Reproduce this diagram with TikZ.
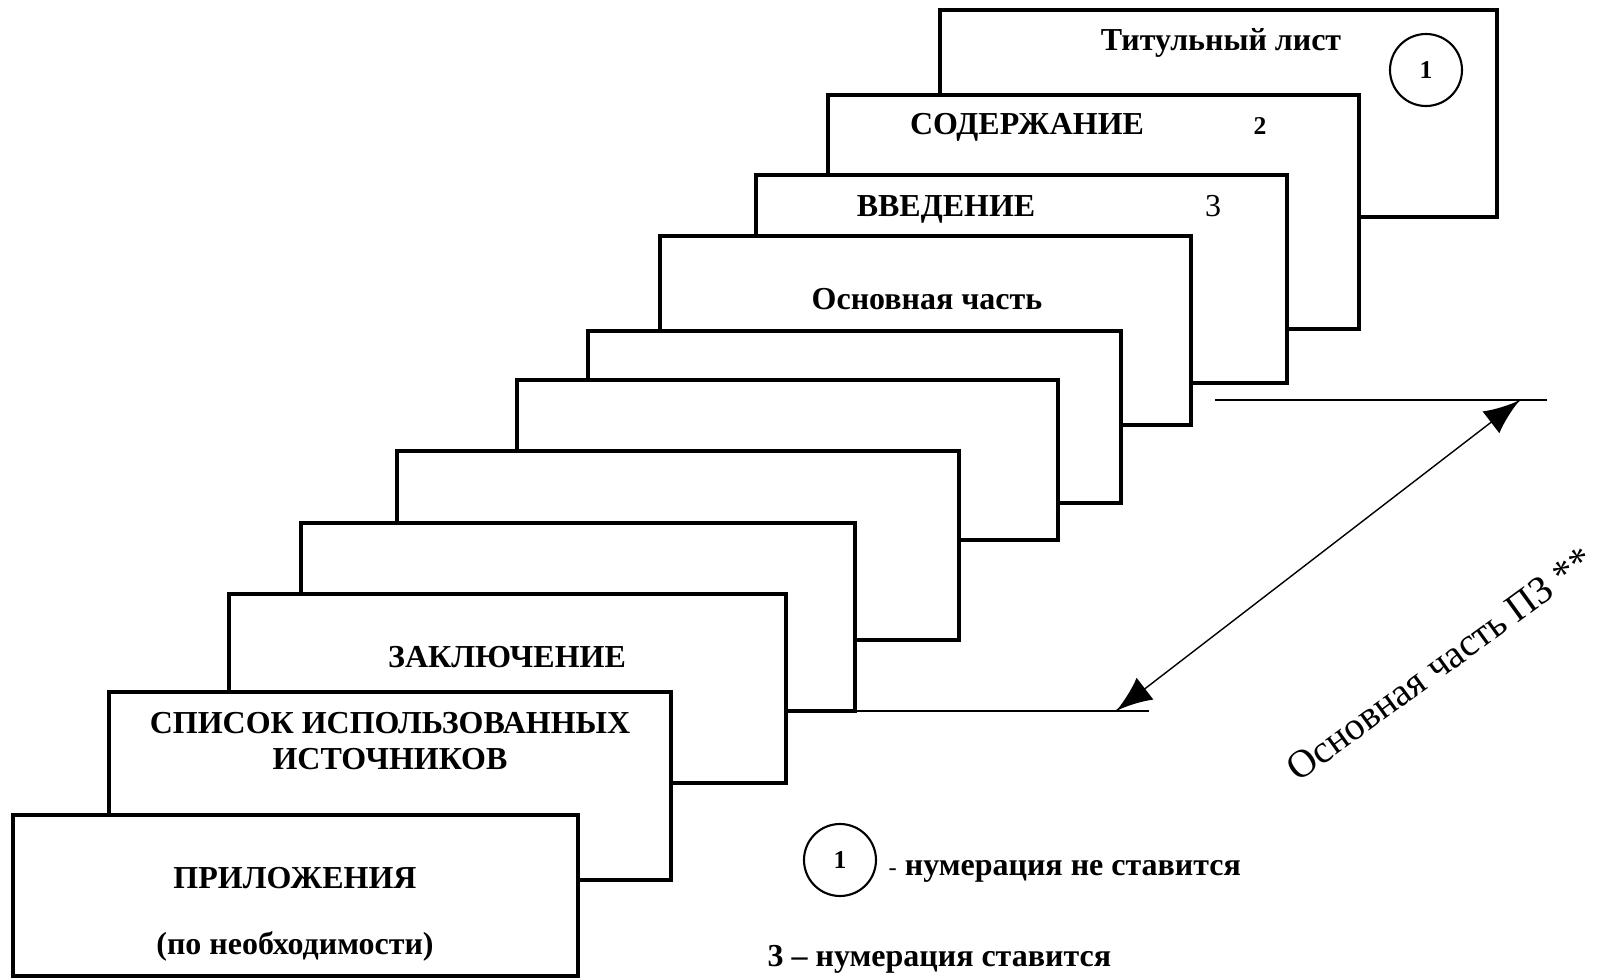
\documentclass[tikz,border=0pt]{standalone}
\usepackage{fontspec}
\setmainfont{Liberation Serif}
\usetikzlibrary{arrows}
\usetikzlibrary{decorations.markings}
\tikzset{page/.style = {line width=1.2pt, fill=white}}
\tikzset{dimarrow/.style = {decoration={markings,
                                  mark=at position 0 with {\arrowreversed[scale=2.6]{latex}},
                                  mark=at position 1 with {\arrow[scale=2.6]{latex}}},
                      postaction={decorate}}}
\tikzset{pagetext/.style = {font=\fontsize{9.1}{11}\selectfont\bfseries, inner sep=0pt, anchor=base}}
\tikzset{numtext/.style = {font=\fontsize{7.3}{8}\selectfont\bfseries}}
\tikzset{nummark/.style = {circle, draw, line width=0.6pt, minimum size=0.72cm, inner sep=0pt,
                           font=\fontsize{7.3}{8}\selectfont\bfseries}}

\begin{document}
\begin{tikzpicture}
    \useasboundingbox (0, 0) rectangle (16.07, -9.79);

    % pages, back to front
    \draw [page] (9.40, -0.10) rectangle (14.97, -2.17);
    \draw [page] (8.28, -0.95) rectangle (13.59, -3.29);
    \draw [page] (7.56, -1.75) rectangle (12.87, -3.83);
    \draw [page] (6.60, -2.36) rectangle (11.91, -4.25);
    \draw [page] (5.88, -3.31) rectangle (11.21, -5.03);
    \draw [page] (5.17, -3.80) rectangle (10.58, -5.40);
    \draw [page] (3.97, -4.51) rectangle (9.59, -6.40);
    \draw [page] (3.01, -5.23) rectangle (8.55, -7.11);
    \draw [page] (2.29, -5.94) rectangle (7.86, -7.83);
    \draw [page] (1.09, -6.92) rectangle (6.71, -8.80);
    \draw [page] (0.13, -8.15) rectangle (5.78, -9.76);

    \node [pagetext] (titul) at (12.21, -0.51) {Титульный лист};
    \node [nummark] (titulnum) at (14.26, -0.70) {1};
    \node [pagetext] (soder) at (10.27, -1.35) {СОДЕРЖАНИЕ};
    \node [pagetext, numtext] (sodernum) at (12.60, -1.35) {2};
    \node [pagetext] (vved) at (9.46, -2.17) {ВВЕДЕНИЕ};
    \node [pagetext, font=\fontsize{9.1}{11}\selectfont] (vvednum) at (12.13, -2.17) {3};
    \node [pagetext] (osn) at (9.27, -3.10) {Основная часть};
    \node [pagetext] (zakl) at (5.07, -6.67) {ЗАКЛЮЧЕНИЕ};
    \node [pagetext] (spisok) at (3.90, -7.33) {СПИСОК ИСПОЛЬЗОВАННЫХ};
    \node [pagetext] (istoch) at (3.90, -7.69) {ИСТОЧНИКОВ};
    \node [pagetext] (pril) at (2.95, -8.88) {ПРИЛОЖЕНИЯ};
    \node [pagetext] (neobh) at (2.95, -9.54) {(по необходимости)};

    % dimension of the main part
    \coordinate (toplineL) at (12.15, -4.00);
    \coordinate (toplineR) at (15.47, -4.00);
    \coordinate (botlineL) at (7.88, -7.11);
    \coordinate (botlineR) at (11.49, -7.11);
    \coordinate (dimtop) at (15.20, -4.00);
    \coordinate (dimbot) at (11.16, -7.11);
    \draw [thin] (toplineL) -- (toplineR);
    \draw [thin] (botlineL) -- (botlineR);
    \draw [thin, dimarrow] (dimbot) -- (dimtop);
    \node [font=\fontsize{11.2}{13}\selectfont, rotate=36] (pzlabel) at (14.40, -6.64) {Основная часть ПЗ **};

    % legend
    \node [nummark] (legcirc) at (8.40, -8.60) {1};
    \node [pagetext, anchor=base west] (legno) at (8.88, -8.75) {{\mdseries\fontsize{7}{8}\selectfont -} нумерация не ставится};
    \node [pagetext, anchor=base west] (legyes) at (7.67, -9.66) {3 -- нумерация ставится};
\end{tikzpicture}
\end{document}
